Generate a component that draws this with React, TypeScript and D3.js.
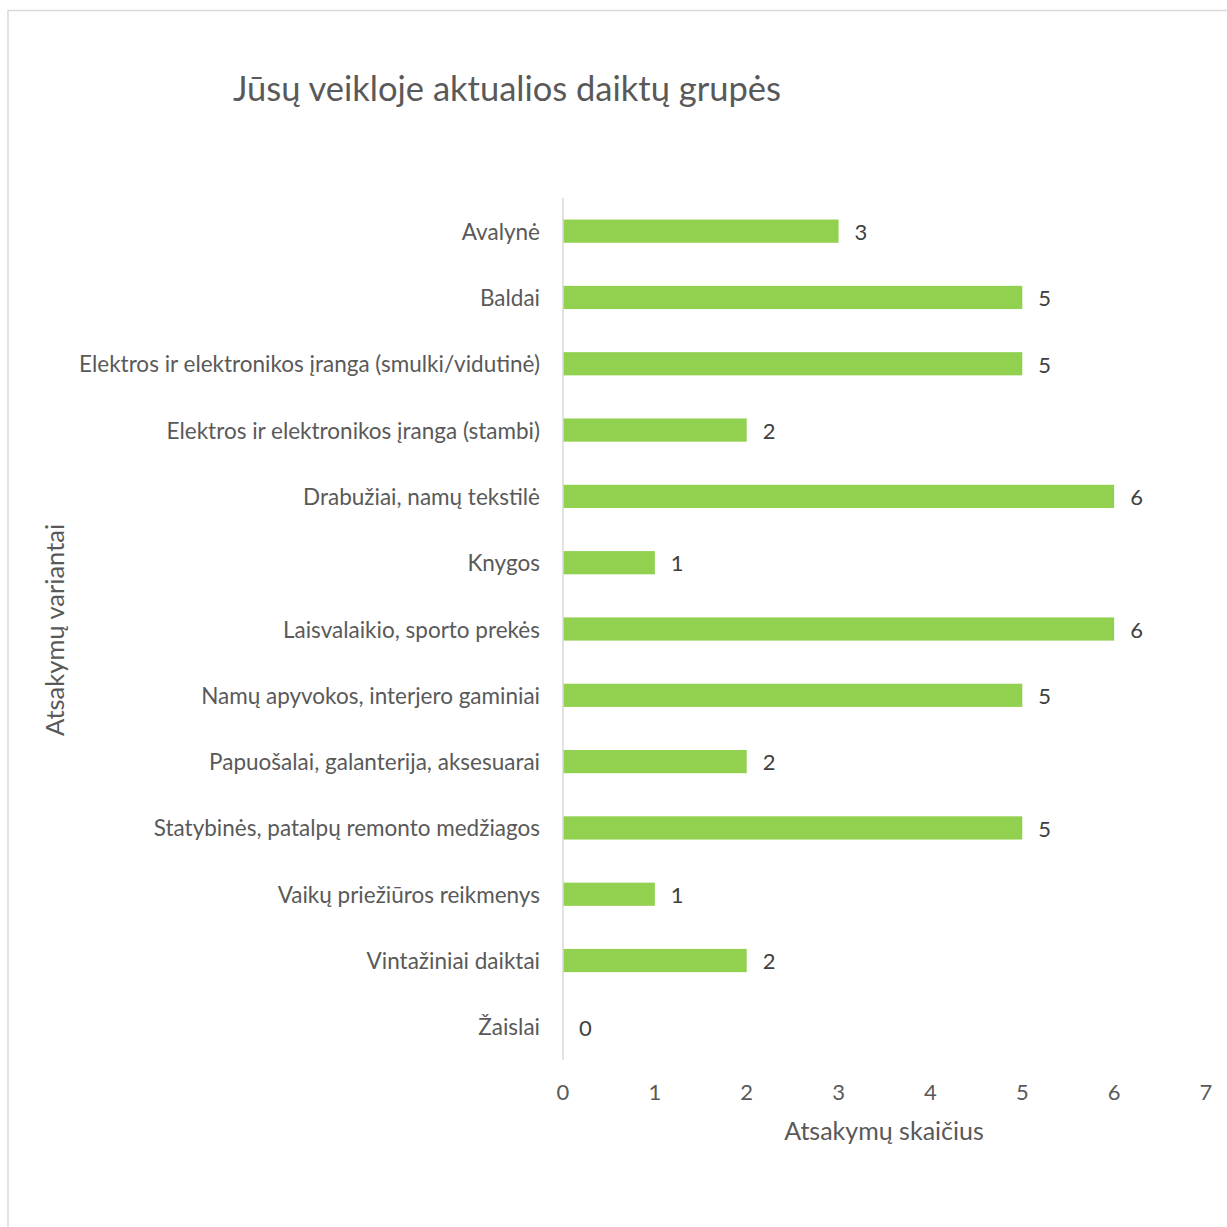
import React from "react";
import * as d3 from "d3";

const categories = [
  "Avalynė",
  "Baldai",
  "Elektros ir elektronikos įranga (smulki/vidutinė)",
  "Elektros ir elektronikos įranga (stambi)",
  "Drabužiai, namų tekstilė",
  "Knygos",
  "Laisvalaikio, sporto prekės",
  "Namų apyvokos, interjero gaminiai",
  "Papuošalai, galanterija, aksesuarai",
  "Statybinės, patalpų remonto medžiagos",
  "Vaikų priežiūros reikmenys",
  "Vintažiniai daiktai",
  "Žaislai",
];
const values = [3, 5, 5, 2, 6, 1, 6, 5, 2, 5, 1, 2, 0];
const xTicks = [0, 1, 2, 3, 4, 5, 6, 7];

const title = "Jūsų veikloje aktualios daiktų grupės";
const xTitle = "Atsakymų skaičius";
const yTitle = "Atsakymų variantai";

const W = 1227;
const H = 1227;
const FONT = "Lato, 'Open Sans', sans-serif";
const TEXT = "#595959";

export default function App() {
  const x = d3.scaleLinear().domain([0, 7]).range([563, 1206]);
  const y = d3
    .scaleBand<string>()
    .domain(categories)
    .range([198, 1060])
    .paddingInner(0.65)
    .paddingOuter(0.325);

  return (
    <svg
      width={W}
      height={H}
      style={{ position: "absolute", left: 0, top: 0 }}
      fontFamily={FONT}
    >
      <rect x={0} y={0} width={W} height={H} fill="#fff" />
      <rect
        x={8}
        y={10.5}
        width={W + 20}
        height={H + 20}
        fill="none"
        stroke="#d9d9d9"
        strokeWidth={1.5}
      />
      <text x={233} y={101} fontSize={34.5} fill={TEXT}>
        {title}
      </text>
      {categories.map((c, i) => (
        <g key={c}>
          <rect
            x={x(0)}
            y={y(c)}
            width={x(values[i]) - x(0)}
            height={y.bandwidth()}
            fill="#92D050"
          />
          <text
            x={x(values[i]) + 16}
            y={y(c)! + y.bandwidth() / 2}
            dy="0.4em"
            fontSize={22}
            fill="#404040"
          >
            {values[i]}
          </text>
          <text
            x={540}
            y={y(c)! + y.bandwidth() / 2}
            dy="0.38em"
            textAnchor="end"
            fontSize={22.5}
            fill={TEXT}
          >
            {c}
          </text>
        </g>
      ))}
      <line x1={563} x2={563} y1={198} y2={1060} stroke="#d9d9d9" strokeWidth={1.5} />
      {xTicks.map((t) => (
        <text
          key={t}
          x={x(t)}
          y={1092}
          dy="0.35em"
          textAnchor="middle"
          fontSize={22}
          fill={TEXT}
        >
          {t}
        </text>
      ))}
      <text x={884} y={1131} dy="0.35em" textAnchor="middle" fontSize={25} fill={TEXT}>
        {xTitle}
      </text>
      <text
        transform="translate(55,630) rotate(-90)"
        dy="0.35em"
        textAnchor="middle"
        fontSize={25.5}
        fill={TEXT}
      >
        {yTitle}
      </text>
    </svg>
  );
}
